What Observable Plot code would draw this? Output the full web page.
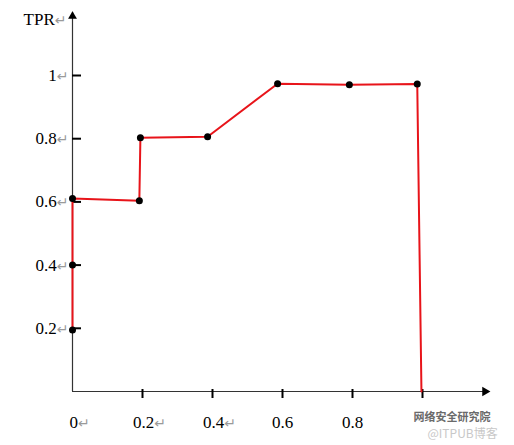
<!DOCTYPE html>
<html><head><meta charset="utf-8">
<script src="https://cdn.jsdelivr.net/npm/d3@7"></script>
<script src="https://cdn.jsdelivr.net/npm/@observablehq/plot@0.6"></script>
<style>body{margin:0;background:#fff}</style>
</head><body><div id="chart"></div>
<script>
// ROC curve points
const fpr = [0, 0, 0, 0.191, 0.194, 0.386, 0.586, 0.791, 0.985, 0.997];
const tpr = [0.195, 0.4, 0.611, 0.604, 0.803, 0.806, 0.974, 0.971, 0.973, 0];
const pointCount = 9; // the last vertex (down to the x axis) has no dot
const yTicks = [0.2, 0.4, 0.6, 0.8, 1];
const yTickLabels = ["0.2↵", "0.4↵", "0.6↵", "0.8↵", "1↵"];
const xTicks = [0.2, 0.4, 0.6, 0.8, 1];
const xLabelValues = [0, 0.2, 0.4, 0.6, 0.8];
const xTickLabels = ["0↵", "0.2↵", "0.4↵", "0.6", "0.8"];
const yTitle = "TPR↵";
const watermark1 = "网络安全研究院";
const watermark2 = "@ITPUB博客";
const axisTop = 1.2;
const axisRight = 1.19;

const idx = d3.range(fpr.length);
const xIdx = d3.range(xLabelValues.length);
const hasRet = i => xTickLabels[i].endsWith("↵");

const chart = Plot.plot({
  width: 514,
  height: 445,
  marginLeft: 72,
  marginRight: 92,
  marginTop: 75,
  marginBottom: 54,
  style: {fontFamily: "'Liberation Serif', 'Times New Roman', serif", fontSize: "17px", background: "#fff", color: "#000"},
  x: {domain: [0, 1], axis: null},
  y: {domain: [0, 1], axis: null},
  marks: [
    Plot.ruleX([0], {y1: 0, y2: axisTop, stroke: "#333", strokeWidth: 1.2}),
    Plot.ruleY([0], {x1: 0, x2: axisRight, stroke: "#333", strokeWidth: 1.2}),
    Plot.dot([axisTop], {x: 0, y: d => d, symbol: "triangle", r: 3.3, fill: "#000", dy: 4}),
    Plot.dot([axisRight], {x: d => d, y: 0, symbol: "triangle", r: 3.5, fill: "#000", rotate: 90, dx: -4}),
    Plot.tickY(yTicks, {y: d => d, insetRight: 341, stroke: "#000", strokeWidth: 2}),
    Plot.tickX(xTicks, {x: d => d, insetTop: 307, dy: 7, stroke: "#000", strokeWidth: 2}),
    Plot.line(idx, {x: i => fpr[i], y: i => tpr[i], stroke: "#e8141a", strokeWidth: 2}),
    Plot.dot(idx.slice(0, pointCount), {x: i => fpr[i], y: i => tpr[i], r: 3.5, fill: "#000"}),
    Plot.text(yTicks, {x: 0, y: d => d, text: (d, i) => yTickLabels[i], textAnchor: "end", dx: -4, fontSize: 17}),
    Plot.text(xIdx.filter(hasRet), {x: i => xLabelValues[i], y: 0, text: i => xTickLabels[i], dx: 7, dy: 31, fontSize: 17}),
    Plot.text(xIdx.filter(i => !hasRet(i)), {x: i => xLabelValues[i], y: 0, text: i => xTickLabels[i], dy: 31, fontSize: 17}),
    Plot.text([yTitle], {x: 0, y: axisTop, text: d => d, textAnchor: "end", dx: -6, dy: 7, fontSize: 17}),
    Plot.text([watermark1], {frameAnchor: "bottom-right", text: d => d, textAnchor: "start", dx: -9, dy: 29, fill: "#6a6a6a", fontSize: 11, fontWeight: "bold", fontFamily: "'Noto Sans CJK SC', sans-serif"}),
    Plot.text([watermark2], {frameAnchor: "bottom-right", text: d => d, textAnchor: "start", dx: 5, dy: 46, fill: "#c8c8c8", fontSize: 12, fontFamily: "'Noto Sans CJK SC', sans-serif"})
  ]
});

// render the trailing paragraph marks "↵" in grey
d3.select(chart).selectAll("text").each(function () {
  const t = this.textContent;
  if (t.endsWith("↵")) {
    this.textContent = t.slice(0, -1);
    d3.select(this).append("tspan")
      .attr("fill", "#9a9a9a")
      .attr("font-family", "'DejaVu Sans', sans-serif")
      .attr("font-size", "14px")
      .text("↵");
  }
});

document.getElementById("chart").appendChild(chart);
</script>
</body></html>
